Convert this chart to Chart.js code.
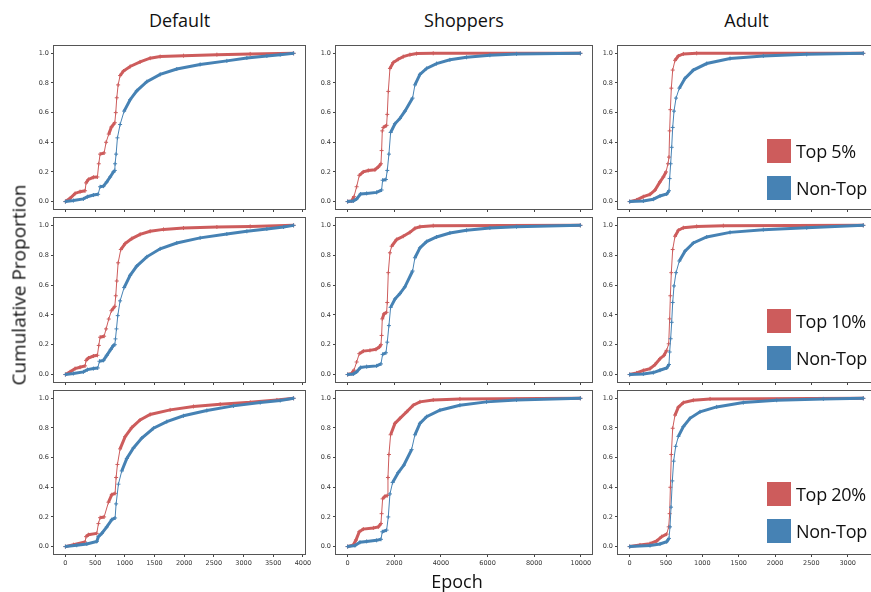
<!DOCTYPE html>
<html>
<head>
<meta charset="utf-8">
<script src="https://cdn.jsdelivr.net/npm/chart.js@4/dist/chart.umd.min.js"></script>
<style>
  html, body { margin: 0; padding: 0; background: #fff; overflow: hidden; width: 871px; height: 592px; }
  canvas { position: absolute; }
  .txt { position: absolute; font-family: "Open Sans", sans-serif; color: #111; white-space: nowrap; line-height: 1; }
  .sq { position: absolute; width: 24px; height: 24px; }
</style>
</head>
<body>
<script>
"use strict";

const colTitles = ["Default", "Shoppers", "Adult"];
const topLabels = ["Top 5%", "Top 10%", "Top 20%"];
const restLabel = "Non-Top";
const yLabel = "Cumulative Proportion";
const xLabel = "Epoch";

const yTicks = [0, 0.2, 0.4, 0.6, 0.8, 1.0];
const xTicksDefault = [0, 500, 1000, 1500, 2000, 2500, 3000, 3500, 4000];
const xTicksShoppers = [0, 2000, 4000, 6000, 8000, 10000];
const xTicksAdult = [0, 500, 1000, 1500, 2000, 2500, 3000];

// top 5%
const defaultTop5 = [[0,0],[79,0.022],[163,0.055],[247,0.067],[331,0.073],[348,0.126],[388,0.149],[472,0.164],[539,0.166],[562,0.255],[584,0.32],[652,0.328],[685,0.40],[730,0.455],[775,0.503],[832,0.532],[848,0.60],[865,0.70],[888,0.787],[921,0.85],[978,0.88],[1090,0.911],[1258,0.942],[1427,0.967],[1596,0.978],[1989,0.984],[2551,0.991],[3112,0.996],[3843,1.0]];
const defaultRest5 = [[0,0],[135,0.007],[303,0.018],[371,0.033],[472,0.044],[551,0.049],[584,0.10],[640,0.104],[697,0.133],[753,0.166],[809,0.20],[832,0.21],[837,0.255],[854,0.32],[876,0.43],[921,0.52],[989,0.61],[1090,0.687],[1202,0.747],[1371,0.809],[1596,0.858],[1876,0.894],[2269,0.925],[2719,0.949],[3056,0.969],[3393,0.982],[3618,0.991],[3843,1.0]];
const shoppersTop5 = [[0,0],[171,0.004],[271,0.033],[386,0.10],[500,0.177],[671,0.20],[886,0.21],[1171,0.215],[1314,0.233],[1429,0.255],[1457,0.344],[1486,0.477],[1529,0.50],[1671,0.514],[1700,0.588],[1743,0.743],[1814,0.898],[1957,0.938],[2171,0.96],[2386,0.978],[2671,0.991],[2957,0.998],[3671,1.0],[9980,1.0]];
const shoppersRest5 = [[0,0],[243,0.004],[386,0.018],[557,0.051],[814,0.055],[1243,0.062],[1457,0.078],[1500,0.144],[1643,0.149],[1700,0.21],[1771,0.32],[1843,0.466],[2029,0.525],[2243,0.561],[2457,0.61],[2786,0.698],[2886,0.787],[3100,0.858],[3386,0.898],[3814,0.931],[4386,0.956],[5100,0.973],[6100,0.987],[7243,0.996],[9980,1.0]];
const adultTop5 = [[0,0],[96,0.011],[188,0.033],[280,0.049],[349,0.078],[417,0.133],[463,0.166],[500,0.20],[527,0.255],[541,0.30],[550,0.477],[560,0.62],[573,0.765],[592,0.887],[624,0.953],[670,0.982],[739,0.996],[922,1.0],[3215,1.0]];
const adultRest5 = [[0,0],[188,0.004],[326,0.016],[417,0.038],[509,0.051],[541,0.073],[550,0.155],[564,0.255],[578,0.366],[592,0.50],[610,0.61],[638,0.698],[683,0.765],[761,0.831],[876,0.887],[1060,0.931],[1381,0.965],[1839,0.982],[2436,0.993],[3215,1.0]];

// top 10%
const defaultTop10 = [[0,0],[79,0.018],[163,0.04],[247,0.049],[331,0.058],[348,0.095],[388,0.111],[472,0.124],[539,0.129],[562,0.195],[584,0.25],[652,0.257],[685,0.306],[730,0.372],[775,0.428],[832,0.457],[848,0.528],[865,0.627],[888,0.749],[933,0.838],[1006,0.878],[1118,0.911],[1258,0.94],[1427,0.96],[1652,0.973],[1989,0.982],[2551,0.989],[3112,0.993],[3843,1.0]];
const defaultRest10 = [[0,0],[135,0.007],[303,0.018],[371,0.033],[472,0.04],[545,0.044],[573,0.089],[640,0.095],[697,0.129],[764,0.169],[809,0.195],[832,0.20],[843,0.239],[860,0.306],[882,0.395],[921,0.494],[989,0.583],[1090,0.665],[1202,0.727],[1371,0.789],[1596,0.843],[1876,0.882],[2269,0.916],[2719,0.942],[3056,0.96],[3393,0.976],[3674,0.989],[3843,1.0]];
const shoppersTop10 = [[0,0],[171,0.007],[271,0.029],[386,0.084],[500,0.14],[671,0.157],[957,0.162],[1214,0.169],[1357,0.184],[1429,0.20],[1457,0.262],[1486,0.373],[1557,0.406],[1671,0.417],[1700,0.483],[1743,0.683],[1814,0.816],[1886,0.86],[2100,0.905],[2386,0.927],[2671,0.953],[2886,0.98],[3100,0.991],[3671,0.998],[9980,1.0]];
const shoppersRest10 = [[0,0],[243,0.004],[386,0.018],[557,0.047],[814,0.053],[1243,0.058],[1429,0.071],[1500,0.135],[1643,0.146],[1700,0.217],[1771,0.328],[1843,0.45],[2029,0.506],[2243,0.543],[2457,0.588],[2786,0.694],[2886,0.783],[3100,0.849],[3386,0.891],[3814,0.922],[4386,0.949],[5100,0.967],[6100,0.982],[7243,0.991],[9980,1.0]];
const adultTop10 = [[0,0],[96,0.011],[188,0.027],[280,0.04],[349,0.067],[417,0.106],[473,0.129],[509,0.162],[537,0.206],[550,0.373],[560,0.528],[573,0.683],[592,0.838],[624,0.927],[670,0.967],[739,0.984],[922,0.993],[1289,0.998],[3215,1.0]];
const adultRest10 = [[0,0],[188,0.004],[326,0.013],[417,0.029],[509,0.044],[541,0.067],[550,0.151],[564,0.24],[578,0.35],[592,0.483],[610,0.594],[638,0.683],[683,0.761],[761,0.827],[876,0.882],[1060,0.922],[1381,0.953],[1839,0.971],[2436,0.984],[3215,1.0]];

// top 20%
const defaultTop20 = [[0,0],[135,0.013],[331,0.031],[348,0.067],[388,0.08],[528,0.089],[556,0.155],[584,0.195],[652,0.20],[725,0.299],[781,0.35],[837,0.359],[854,0.466],[876,0.554],[921,0.659],[1006,0.741],[1118,0.803],[1258,0.854],[1427,0.891],[1764,0.922],[2157,0.945],[2607,0.96],[3112,0.973],[3562,0.989],[3843,1.0]];
const defaultRest20 = [[0,0],[191,0.009],[360,0.018],[528,0.035],[556,0.067],[612,0.089],[697,0.133],[781,0.182],[837,0.193],[854,0.288],[893,0.421],[949,0.51],[1034,0.594],[1146,0.665],[1287,0.732],[1483,0.798],[1708,0.843],[1989,0.882],[2382,0.918],[2831,0.949],[3281,0.971],[3618,0.985],[3843,1.0]];
const shoppersTop20 = [[0,0],[243,0.011],[357,0.044],[500,0.10],[671,0.118],[1100,0.126],[1314,0.133],[1429,0.155],[1457,0.222],[1500,0.322],[1600,0.339],[1700,0.344],[1729,0.466],[1771,0.621],[1843,0.754],[2029,0.831],[2243,0.865],[2529,0.909],[2814,0.953],[3100,0.976],[3671,0.989],[4814,0.996],[9980,1.0]];
const shoppersRest20 = [[0,0],[314,0.007],[529,0.029],[814,0.035],[1243,0.042],[1429,0.049],[1486,0.10],[1671,0.111],[1743,0.20],[1814,0.355],[1929,0.432],[2171,0.499],[2414,0.55],[2743,0.654],[2886,0.754],[3100,0.831],[3386,0.876],[3957,0.92],[4814,0.953],[5957,0.976],[7243,0.989],[9980,1.0]];
const adultTop20 = [[0,0],[142,0.011],[280,0.02],[372,0.038],[440,0.067],[509,0.084],[537,0.133],[550,0.222],[560,0.40],[573,0.621],[592,0.798],[624,0.887],[670,0.94],[739,0.971],[876,0.987],[1106,0.996],[3215,1.0]];
const adultRest20 = [[0,0],[280,0.007],[417,0.018],[509,0.033],[541,0.055],[555,0.133],[569,0.266],[587,0.443],[605,0.576],[633,0.676],[670,0.743],[739,0.809],[830,0.865],[968,0.909],[1197,0.942],[1564,0.971],[2023,0.987],[2665,0.996],[3215,1.0]];

const topSeries = [
  [defaultTop5, shoppersTop5, adultTop5],
  [defaultTop10, shoppersTop10, adultTop10],
  [defaultTop20, shoppersTop20, adultTop20],
];
const restSeries = [
  [defaultRest5, shoppersRest5, adultRest5],
  [defaultRest10, shoppersRest10, adultRest10],
  [defaultRest20, shoppersRest20, adultRest20],
];
const colXTicks = [xTicksDefault, xTicksShoppers, xTicksAdult];

const RED = "#CD5C5C";
const BLUE = "#4682B4";

// plot boxes in page pixels
const cols = [{ l: 54, r: 305 }, { l: 336, r: 592 }, { l: 618, r: 875 }];
const rows = [{ t: 44, b: 209 }, { t: 216, b: 382 }, { t: 389, b: 554 }];
const padL = 40, padT = 4, padR = 16, padB = 22;

const boxPlugin = {
  id: "box",
  afterDraw(chart) {
    const { ctx, chartArea: a } = chart;
    ctx.save();
    ctx.strokeStyle = "#555";
    ctx.lineWidth = 1;
    ctx.strokeRect(Math.round(a.left) - 0.5, Math.round(a.top) - 0.5, Math.round(a.width) + 1, Math.round(a.height) + 1);
    ctx.restore();
  },
};

const toXY = arr => arr.map(p => ({ x: p[0], y: p[1] }));

const makeSet = (data, color) => ({
  data: toXY(data),
  borderColor: color,
  backgroundColor: color,
  borderWidth: 3,
  pointStyle: "cross",
  pointRadius: 2,
  pointBorderWidth: 1,
  pointBorderColor: color,
  tension: 0,
  segment: {
    // steep jumps show as thin line with markers, like the original
    borderWidth: c => (Math.abs(c.p1.y - c.p0.y) > 3 * Math.abs(c.p1.x - c.p0.x) ? 1 : 3),
  },
});

const tickFont = { family: "DejaVu Sans", size: 6.5 };

rows.forEach((row, ri) => {
  cols.forEach((col, ci) => {
    const top = topSeries[ri][ci];
    const rest = restSeries[ri][ci];
    const xEnd = top[top.length - 1][0];
    const xTicks = colXTicks[ci];

    const canvas = document.createElement("canvas");
    const w = col.r - col.l + padL + padR;
    const h = row.b - row.t + padT + padB;
    canvas.width = w;
    canvas.height = h;
    canvas.style.left = (col.l - padL) + "px";
    canvas.style.top = (row.t - padT) + "px";
    document.body.appendChild(canvas);

    new Chart(canvas, {
      type: "line",
      data: {
        datasets: [makeSet(rest, BLUE), makeSet(top, RED)],
      },
      options: {
        responsive: false,
        animation: false,
        events: [],
        layout: { padding: { left: 0, top: padT, right: padR, bottom: 0 } },
        plugins: { legend: { display: false }, tooltip: { enabled: false } },
        scales: {
          x: {
            type: "linear",
            min: -0.05 * xEnd,
            max: 1.05 * xEnd,
            afterBuildTicks: s => { s.ticks = xTicks.map(v => ({ value: v })); },
            afterFit: s => { s.height = padB; },
            grid: { drawOnChartArea: false, drawTicks: true, tickLength: 3, color: "#444" },
            border: { display: false },
            ticks: {
              display: ri === 2,
              font: tickFont,
              color: "#333",
              padding: 2,
              maxRotation: 0,
              autoSkip: false,
              callback: v => String(v),
            },
          },
          y: {
            min: -0.05,
            max: 1.05,
            afterBuildTicks: s => { s.ticks = yTicks.map(v => ({ value: v })); },
            afterFit: s => { s.width = padL; },
            grid: { drawOnChartArea: false, drawTicks: true, tickLength: 3, color: "#444" },
            border: { display: false },
            ticks: {
              font: tickFont,
              color: "#333",
              padding: 2,
              callback: v => v.toFixed(1),
            },
          },
        },
      },
      plugins: [boxPlugin],
    });
  });
});

// page text
const addText = (text, css) => {
  const d = document.createElement("div");
  d.className = "txt";
  d.textContent = text;
  Object.assign(d.style, css);
  document.body.appendChild(d);
  return d;
};

cols.forEach((col, ci) => {
  addText(colTitles[ci], {
    left: (col.l + col.r) / 2 - 200 + "px", width: "400px", textAlign: "center",
    top: "11px", fontSize: "18px",
  });
});

addText(xLabel, {
  left: "257px", width: "400px", textAlign: "center", top: "572px", fontSize: "18px",
});

addText(yLabel, {
  left: "19px", top: "285px", fontSize: "19px",
  transform: "translate(-50%, -50%) rotate(-90deg)",
});

// legends inside the Adult column
const legendRed = [151, 321, 494];
rows.forEach((row, ri) => {
  const cy = legendRed[ri];
  const blueCy = cy + 37;
  const sqR = document.createElement("div");
  sqR.className = "sq";
  Object.assign(sqR.style, { left: "767px", top: cy - 12 + "px", background: RED });
  document.body.appendChild(sqR);
  const sqB = document.createElement("div");
  sqB.className = "sq";
  Object.assign(sqB.style, { left: "767px", top: blueCy - 12 + "px", background: BLUE });
  document.body.appendChild(sqB);
  const legCss = { fontSize: "18px", letterSpacing: "-0.3px" };
  addText(topLabels[ri], Object.assign({ left: "796px", top: cy - 9 + "px" }, legCss));
  addText(restLabel, Object.assign({ left: "796px", top: blueCy - 9 + "px" }, legCss));
});
</script>
</body>
</html>
